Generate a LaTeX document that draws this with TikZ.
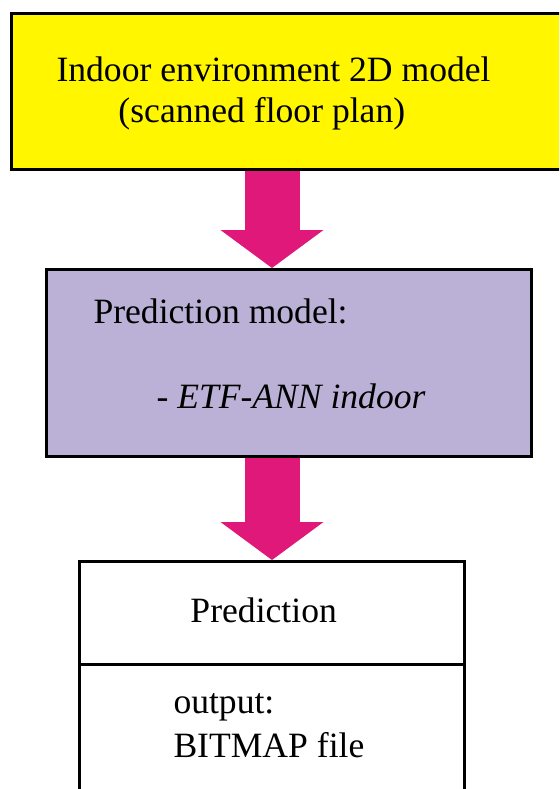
\documentclass[tikz,border=0pt]{standalone}
\usepackage{fontspec}
\setmainfont{Liberation Serif}
\usetikzlibrary{arrows.meta}
\definecolor{envyellow}{RGB}{255,246,0}
\definecolor{modellilac}{RGB}{187,177,214}
\definecolor{flowpink}{RGB}{224,24,122}

\begin{document}
\begin{tikzpicture}[x=0.5pt, y=-0.5pt, line width=1.5pt, font=\fontsize{17.8}{21}\selectfont,
    box/.style={draw, rectangle, inner sep=0pt, anchor=north west},
    txt/.style={inner sep=0pt, anchor=base west},
    flow/.style={draw=flowpink, line width=27.5pt, -{Triangle[width=51.5pt, length=19pt, line width=0pt]}}]
    \clip (0,0) rectangle (559,789);
    % boxes
    \node[box, fill=envyellow, minimum width=282.5pt, minimum height=78pt] (env) at (10,12) {};
    \node[box, fill=modellilac, minimum width=242.5pt, minimum height=93.5pt] (model) at (45,268) {};
    \node[box, fill=white, minimum width=192.5pt, minimum height=51.5pt] (predtop) at (78,560) {};
    \node[box, fill=white, minimum width=192.5pt, minimum height=75pt] (predout) at (78,663) {};
    % texts
    \node[txt] (envA) at (55,81) {Indoor environment 2D model};
    \node[txt] (envB) at (117,122) {(scanned floor plan)};
    \node[txt] (modelA) at (92,323) {Prediction model:};
    \node[txt] (modelB) at (155,408) {- \textit{ETF-ANN indoor}};
    \node[txt] (predA) at (189,622) {Prediction};
    \node[txt] (predB) at (172,713) {output:};
    \node[txt] (predC) at (172,757) {BITMAP file};
    % arrows
    \draw[flow] (env.south -| predtop.north) -- (model.north -| predtop.north);
    \draw[flow] (model.south -| predtop.north) -- (predtop.north);
\end{tikzpicture}
\end{document}
